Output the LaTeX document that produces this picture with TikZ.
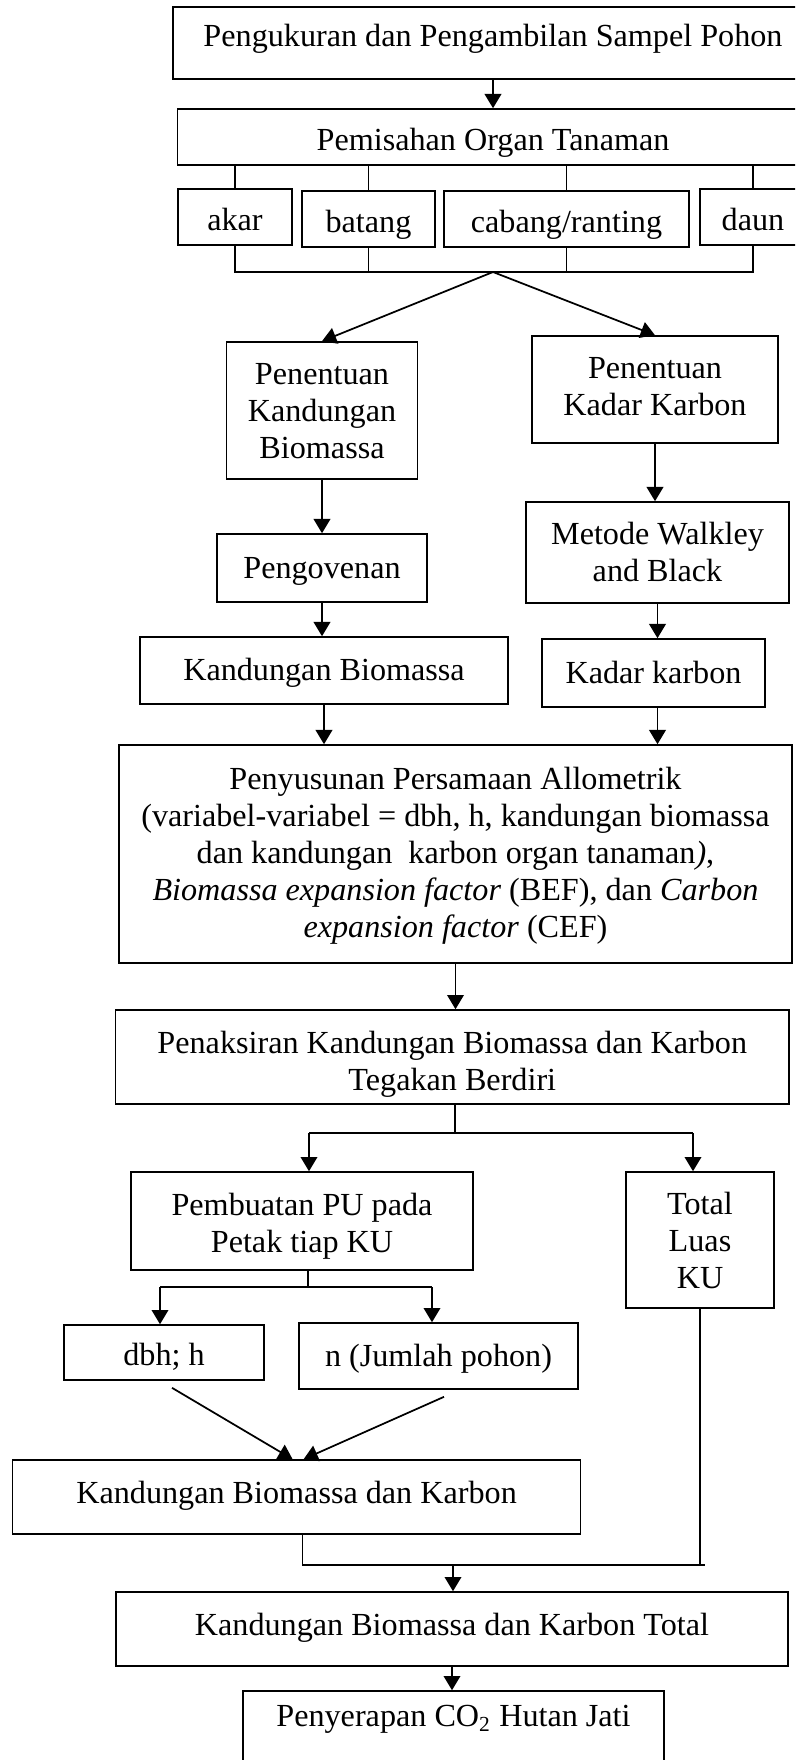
\documentclass[tikz,border=0pt]{standalone}
\usepackage{fontspec}
\setmainfont{Liberation Serif}
\usepackage{tikz}
\usetikzlibrary{arrows.meta,calc}
\tikzset{kotak/.style={draw,rectangle,inner sep=0pt,align=center,line width=0.6pt,
    font=\fontsize{12}{13.8}\selectfont,text height=13pt,text depth=3.1pt},
  l2/.style={text height=26.8pt},
  l3/.style={text height=40.6pt},
  l5/.style={text height=68.2pt},
  uk/.style 2 args={minimum width=#1*0.373pt,minimum height=#2*0.373pt},
  garis/.style={line width=0.65pt},
  panah/.style={garis,-{Triangle[width=6.2pt,length=5.3pt]}}}

\begin{document}
\begin{tikzpicture}[x=0.373pt,y=-0.373pt]
\useasboundingbox (0,0) rectangle (795,1760);
\clip (0,0) rectangle (795,1760);

\node[kotak,uk={640}{72},text depth=10.3pt] (sampel) at (493,43) {Pengukuran dan Pengambilan Sampel Pohon};
\node[kotak,uk={631}{56}] (pisah) at (493,137) {Pemisahan Organ Tanaman};
\node[kotak,uk={114.5}{56}] (akar) at (235,217) {akar};
\node[kotak,uk={133}{56}] (batang) at (368.5,219) {batang};
\node[kotak,uk={245}{56}] (cabang) at (566.5,219) {cabang/ranting};
\node[kotak,uk={106}{56}] (daun) at (753,217) {daun};

\node[kotak,l3,uk={191}{137},text depth=4.9pt] (biomassa) at (322,410.5) {Penentuan\\Kandungan\\Biomassa};
\node[kotak,l2,uk={246}{107},text depth=7.5pt] (karbon) at (655,389.5) {Penentuan\\Kadar Karbon};
\node[kotak,uk={210.5}{68},text depth=5.3pt] (oven) at (322,568) {Pengovenan};
\node[kotak,uk={367.5}{67},text depth=5.7pt] (kbio) at (324,670.5) {Kandungan Biomassa};
\node[kotak,l2,uk={263}{101},text depth=4.9pt] (walkley) at (657.5,552.5) {Metode Walkley\\and Black};
\node[kotak,uk={223}{68},text depth=5.3pt] (kadar) at (653.5,673) {Kadar karbon};

\node[kotak,l5,uk={673}{218},text depth=6.1pt] (allo) at (455.5,854) {Penyusunan Persamaan Allometrik\\(variabel-variabel = dbh, h, kandungan biomassa\\dan kandungan\ \ karbon organ tanaman\textit{)},\\\textit{Biomassa expansion factor} (BEF), dan \textit{Carbon}\\\textit{expansion factor} (CEF)};
\node[kotak,l2,uk={673.4}{94},text depth=2pt] (taksir) at (452.3,1057) {Penaksiran Kandungan Biomassa dan Karbon\\Tegakan Berdiri};

\node[kotak,l2,uk={342}{98}] (pu) at (302,1221) {Pembuatan PU pada\\Petak tiap KU};
\node[kotak,l3,uk={148}{136},text depth=4.6pt] (luas) at (700,1240) {Total\\Luas\\KU};
\node[kotak,uk={200}{55}] (dbh) at (164,1352.5) {dbh; h};
\node[kotak,uk={279}{66},text depth=5.3pt] (jml) at (438.5,1356) {n (Jumlah pohon)};
\node[kotak,uk={568}{74},text depth=8.3pt] (kbk) at (296.6,1497) {Kandungan Biomassa dan Karbon};
\node[kotak,uk={672}{74},text depth=8.3pt] (total) at (452,1629) {Kandungan Biomassa dan Karbon Total};
\node[kotak,uk={421}{84},text depth=17.8pt] (serap) at (453.5,1733) {Penyerapan CO\textsubscript{2} Hutan Jati};

\draw[panah] (sampel.south) -- (pisah.north);
\draw[garis] (akar.north) -- (akar.north |- pisah.south);
\draw[garis] (batang.north) -- (batang.north |- pisah.south);
\draw[garis] (cabang.north) -- (cabang.north |- pisah.south);
\draw[garis] (daun.north) -- (daun.north |- pisah.south);

\coordinate (kumpul) at (493,272);
\draw[garis] (akar.south) -- (akar.south |- kumpul) -- (daun.south |- kumpul) -- (daun.south);
\draw[garis] (batang.south) -- (batang.south |- kumpul);
\draw[garis] (cabang.south) -- (cabang.south |- kumpul);
\draw[panah] (kumpul) -- (biomassa.north);
\draw[panah] (kumpul) -- (karbon.north);

\draw[panah] (biomassa.south) -- (oven.north);
\draw[panah] (oven.south) -- (oven.south |- kbio.north);
\draw[panah] (karbon.south) -- (karbon.south |- walkley.north);
\draw[panah] (walkley.south) -- (walkley.south |- kadar.north);
\draw[panah] (kbio.south) -- (kbio.south |- allo.north);
\draw[panah] (kadar.south -| walkley.south) -- (walkley.south |- allo.north);
\draw[panah] (allo.south) -- (allo.south |- taksir.north);

\coordinate (bagi) at (455,1133);
\coordinate (bagiL) at (309,1133);
\coordinate (bagiR) at (693,1133);
\draw[garis] (taksir.south -| bagi) -- (bagi);
\draw[garis] (bagiL) -- (bagiR);
\draw[panah] (bagiL) -- (bagiL |- pu.north);
\draw[panah] (bagiR) -- (bagiR |- luas.north);

\coordinate (pecah) at (308,1287);
\coordinate (pecahL) at (160,1287);
\coordinate (pecahR) at (432,1287);
\draw[garis] (pu.south -| pecah) -- (pecah);
\draw[garis] (pecahL) -- (pecahR);
\draw[panah] (pecahL) -- (pecahL |- dbh.north);
\draw[panah] (pecahR) -- (pecahR |- jml.north);
\draw[panah] ($(dbh.south)+(8,7)$) -- ($(kbk.north)+(-4,0)$);
\draw[panah] ($(jml.south)+(5.5,7)$) -- ($(kbk.north)+(7,0)$);

\coordinate (gabung) at (453,1565);
\draw[garis] ($(kbk.south)+(6,0)$) |- ($(luas.south |- gabung)+(5,0)$);
\draw[garis] (luas.south) -- (luas.south |- gabung);
\draw[panah] (gabung) -- (gabung |- total.north);
\draw[panah] (total.south) -- (total.south |- serap.north);
\end{tikzpicture}
\end{document}
